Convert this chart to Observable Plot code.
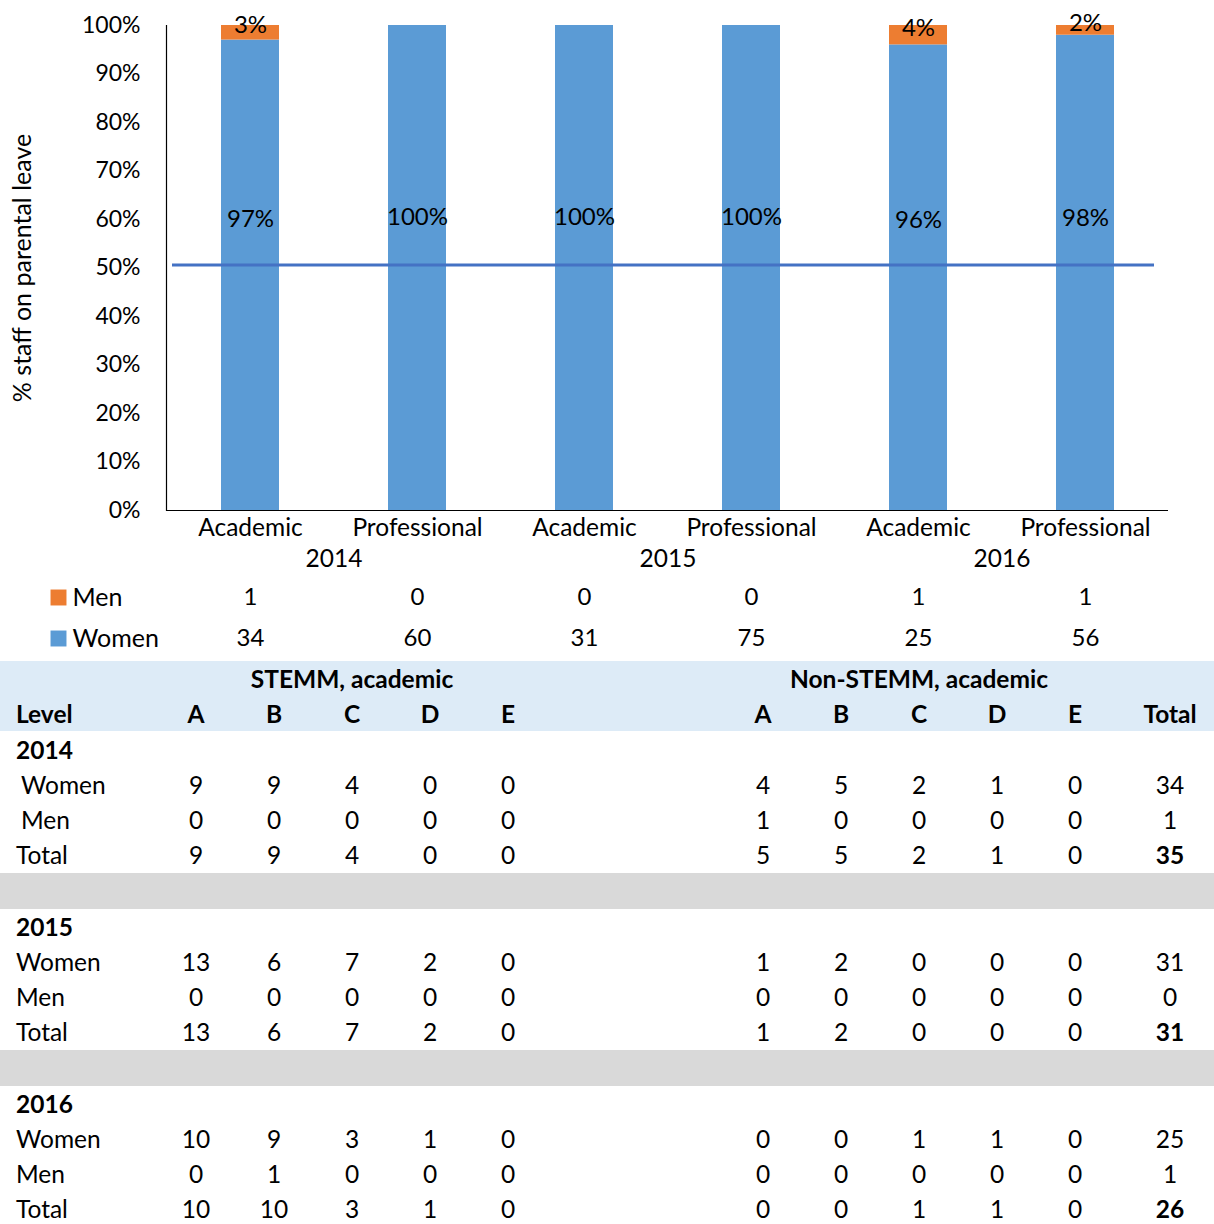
<!DOCTYPE html>
<html>
<head>
<meta charset="utf-8">
<script src="https://cdn.jsdelivr.net/npm/d3@7"></script>
<script src="https://cdn.jsdelivr.net/npm/@observablehq/plot@0.6"></script>
<style>
  body { margin: 0; background: #fff; font-family: Lato, "Open Sans", sans-serif; color: #000; overflow: hidden; }
  #chart { position: relative; width: 1214px; height: 660px; }
  #table { position: relative; width: 1214px; height: 564px; font-size: 24.5px; }
  #table .cell { position: absolute; height: 22px; line-height: 22px; white-space: nowrap; transform: translateX(-50%); }
  #table .left { transform: none; }
  #table .bold { font-weight: bold; }
  #table .band { position: absolute; left: 0; width: 1214px; }
</style>
</head>
<body>
<div id="chart"></div>
<div id="table"></div>
<script>
// ---- Chart data: staff on parental leave by year and staff type ----
const years = ["2014", "2015", "2016"];
const staffTypes = ["Academic", "Professional", "Academic", "Professional", "Academic", "Professional"];
const categoryYears = ["2014", "2014", "2015", "2015", "2016", "2016"];
const menCounts = [1, 0, 0, 0, 1, 1];
const womenCounts = [34, 60, 31, 75, 25, 56];
const menShare = [0.03, 0, 0, 0, 0.04, 0.02];
const womenShare = [0.97, 1.00, 1.00, 1.00, 0.96, 0.98];
const parityLevel = 0.5;
const yTicks = [0, 0.1, 0.2, 0.3, 0.4, 0.5, 0.6, 0.7, 0.8, 0.9, 1.0];
const seriesNames = ["Men", "Women"];

// ---- Table data: counts by grade level (STEMM A–E, Non-STEMM A–E, Total) ----
const gradeLevels = ["A", "B", "C", "D", "E"];
const women2014 = [9, 9, 4, 0, 0, 4, 5, 2, 1, 0, 34];
const men2014   = [0, 0, 0, 0, 0, 1, 0, 0, 0, 0, 1];
const total2014 = [9, 9, 4, 0, 0, 5, 5, 2, 1, 0, 35];
const women2015 = [13, 6, 7, 2, 0, 1, 2, 0, 0, 0, 31];
const men2015   = [0, 0, 0, 0, 0, 0, 0, 0, 0, 0, 0];
const total2015 = [13, 6, 7, 2, 0, 1, 2, 0, 0, 0, 31];
const women2016 = [10, 9, 3, 1, 0, 0, 0, 1, 1, 0, 25];
const men2016   = [0, 1, 0, 0, 0, 0, 0, 0, 0, 0, 1];
const total2016 = [10, 10, 3, 1, 0, 0, 0, 1, 1, 0, 26];

// ---- Build chart rows ----
const categories = staffTypes.map((t, i) => `${categoryYears[i]}|${t}|${i}`);
const stackRows = [
  ...categories.map((c, i) => ({cat: c, sex: "Women", share: womenShare[i]})),
  ...categories.map((c, i) => ({cat: c, sex: "Men", share: menShare[i]}))
];
const womenLabels = categories.map((c, i) => ({cat: c, share: womenShare[i]}));
const menLabels = categories.map((c, i) => ({cat: c, share: menShare[i]})).filter(d => d.share > 0);
const countRows = categories.map((c, i) => ({cat: c, men: menCounts[i], women: womenCounts[i]}));
const yearRows = years.map(y => ({year: y, cat: categories[categoryYears.indexOf(y)]}));

const pct = d3.format(".0%");
const fs = 24;
const step = (1214 - 166 - 46) / categories.length;
const rowOffset = {Men: 87, Women: 128};

const chart = Plot.plot({
  width: 1214,
  height: 660,
  marginLeft: 166,
  marginRight: 46,
  marginTop: 25,
  marginBottom: 150,
  style: {fontFamily: "Lato, 'Open Sans', sans-serif", fontSize: `${fs}px`, color: "#000", background: "#fff"},
  x: {type: "band", domain: categories, paddingInner: 0.653, paddingOuter: 0.3265, axis: null},
  y: {domain: [0, 1], axis: null},
  color: {domain: seriesNames, range: ["#ED7D31", "#5B9BD5"]},
  marks: [
    Plot.barY(stackRows, {x: "cat", y: "share", fill: "sex", order: null}),
    Plot.ruleY([parityLevel], {stroke: "#4472C4", strokeWidth: 3, insetLeft: 6, insetRight: 14, dy: -3}),
    Plot.ruleY([0], {stroke: "#000", strokeWidth: 1.2}),
    Plot.frame({anchor: "left", stroke: "#000", strokeWidth: 1.2}),
    Plot.axisY({ticks: yTicks, tickFormat: pct, tickSize: 0, tickPadding: 26, fontSize: 23, label: null}),
    Plot.text(["% staff on parental leave"], {frameAnchor: "left", rotate: -90, textAnchor: "middle", dx: -144, fontSize: 25}),
    Plot.axisX({tickFormat: d => d.split("|")[1], tickSize: 0, tickPadding: 8, fontSize: 24.5, label: null}),
    Plot.text(yearRows, {x: "cat", text: "year", frameAnchor: "bottom", lineAnchor: "middle", dx: step / 2, dy: 49, fontSize: 24.5}),
    // Women share labels sit in the upper part of each bar
    Plot.text(womenLabels, {x: "cat", y: d => 0.45 + d.share * 0.155, text: d => pct(d.share), fontSize: fs}),
    Plot.text(menLabels, {x: "cat", y: d => 1 - d.share / 2, text: d => pct(d.share), dy: -7, fontSize: fs}),
    // Counts under the axis, one row per series, with a colour key on the left
    Plot.text(countRows, {x: "cat", text: "men", frameAnchor: "bottom", lineAnchor: "middle", dy: rowOffset.Men, fontSize: fs}),
    Plot.text(countRows, {x: "cat", text: "women", frameAnchor: "bottom", lineAnchor: "middle", dy: rowOffset.Women, fontSize: fs}),
    ...seriesNames.map(s => Plot.dot([s], {frameAnchor: "bottom-left", fill: d => d, symbol: "square", r: 9, dx: -108, dy: rowOffset[s]})),
    ...seriesNames.map(s => Plot.text([s], {frameAnchor: "bottom-left", lineAnchor: "middle", text: d => d, textAnchor: "start", dx: -94, dy: rowOffset[s], fontSize: 25}))
  ]
});
document.getElementById("chart").append(chart);

// ---- Table ----
const table = d3.select("#table");
const colX = [196, 274, 352, 430, 508, 763, 841, 919, 997, 1075, 1170];
const rowH = 35;

function cell(text, cx, cy, opts = {}) {
  table.append("div")
    .attr("class", "cell" + (opts.left ? " left" : "") + (opts.bold ? " bold" : ""))
    .style("top", `${cy - 11}px`)
    .style("left", `${cx}px`)
    .text(text);
}

table.append("div").attr("class", "band").style("top", "1px").style("height", "70px").style("background", "#DDEBF7");
cell("STEMM, academic", colX[2], 19, {bold: true});
cell("Non-STEMM, academic", colX[7], 19, {bold: true});
cell("Level", 16, 54, {left: true, bold: true});
[...gradeLevels, ...gradeLevels, "Total"].forEach((g, i) => cell(g, colX[i], 54, {bold: true}));

const blocks = [
  {year: "2014", rows: [["Women", women2014], ["Men", men2014], ["Total", total2014]], indent: [21, 21, 16]},
  {year: "2015", rows: [["Women", women2015], ["Men", men2015], ["Total", total2015]], indent: [16, 16, 16]},
  {year: "2016", rows: [["Women", women2016], ["Men", men2016], ["Total", total2016]], indent: [16, 16, 16]}
];
const blockTop = 90;
const blockStep = 177;
blocks.forEach((b, bi) => {
  const y0 = blockTop + bi * blockStep;
  cell(b.year, 16, y0, {left: true, bold: true});
  b.rows.forEach(([name, vals], ri) => {
    const cy = y0 + (ri + 1) * rowH;
    cell(name, b.indent[ri], cy, {left: true});
    vals.forEach((v, ci) => cell(String(v), colX[ci], cy, {bold: name === "Total" && ci === vals.length - 1}));
  });
  if (bi < blocks.length - 1) {
    table.append("div").attr("class", "band").style("top", `${y0 + 123}px`).style("height", "36px").style("background", "#D9D9D9");
  }
});
</script>
</body>
</html>
